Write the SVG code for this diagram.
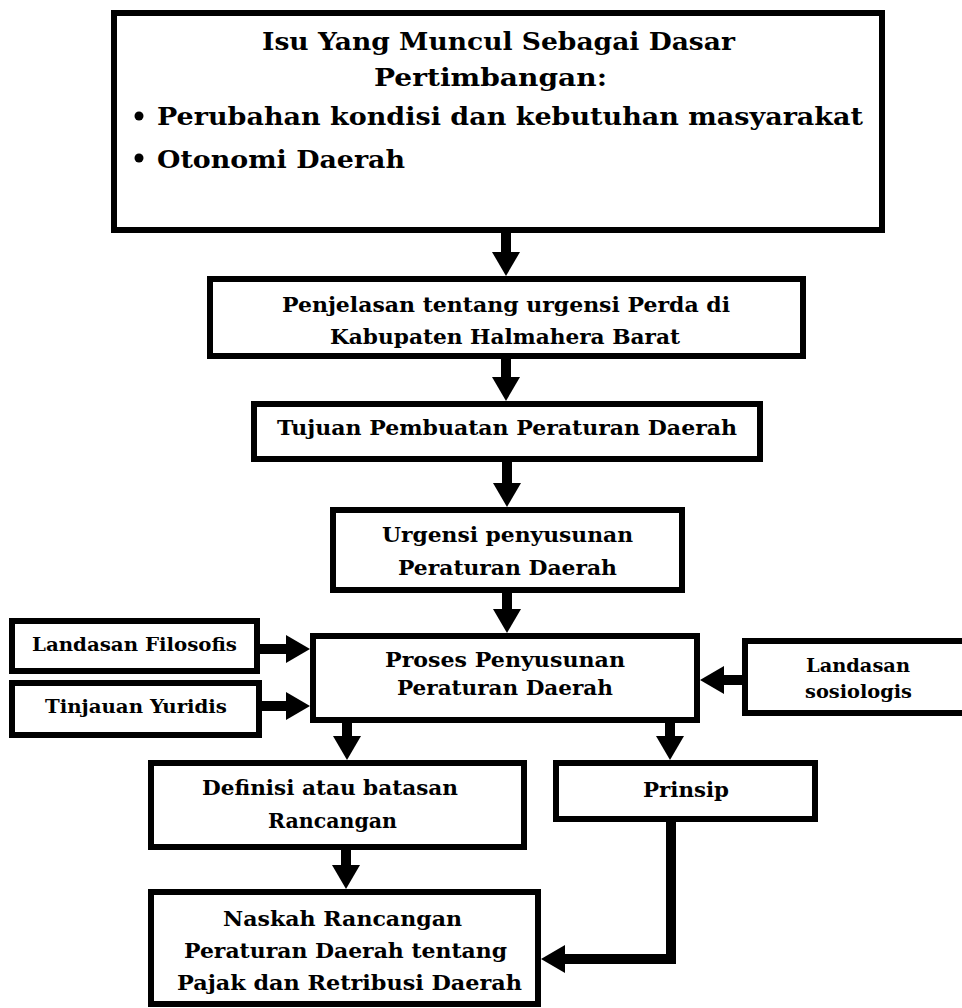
<svg xmlns="http://www.w3.org/2000/svg" width="962" height="1008" viewBox="0 0 962 1008">
<style>
.box{fill:#fff;stroke:#000;stroke-width:6}
.t{font-family:"DejaVu Serif","Liberation Serif",serif;font-weight:bold;fill:#000}
.big{font-size:25px}
.mid{font-size:21px}
.sm{font-size:18px}
.con{fill:none;stroke:#000;stroke-width:10;stroke-linejoin:miter}
</style>
<defs>
<marker id="ah" markerUnits="userSpaceOnUse" markerWidth="24" markerHeight="28" viewBox="0 0 24 28" refX="0" refY="14" orient="auto">
<path d="M0,0 L24,14 L0,28 z" fill="#000"/>
</marker>
</defs>
<rect width="962" height="1008" fill="#fff"/>
<g id="connectors">
<path class="con" d="M506,233 L506,252" marker-end="url(#ah)"/>
<path class="con" d="M506,359 L506,377" marker-end="url(#ah)"/>
<path class="con" d="M507,462 L507,483" marker-end="url(#ah)"/>
<path class="con" d="M507,593 L507,609" marker-end="url(#ah)"/>
<path class="con" d="M260,649 L286,649" marker-end="url(#ah)"/>
<path class="con" d="M262,706 L286,706" marker-end="url(#ah)"/>
<path class="con" d="M742,680 L724,680" marker-end="url(#ah)"/>
<path class="con" d="M347,723 L347,736" marker-end="url(#ah)"/>
<path class="con" d="M670,723 L670,736" marker-end="url(#ah)"/>
<path class="con" d="M346,850 L346,865" marker-end="url(#ah)"/>
<path class="con" d="M671,822 L671,959 L565,959" marker-end="url(#ah)"/>
</g>
<g id="isu">
<rect class="box" x="114" y="13" width="768" height="217"/>
<text class="t big" x="262" y="50" textLength="473" lengthAdjust="spacingAndGlyphs">Isu Yang Muncul Sebagai Dasar</text>
<text class="t big" x="374" y="86" textLength="233" lengthAdjust="spacingAndGlyphs">Pertimbangan:</text>
<circle cx="139" cy="116" r="4.5" fill="#000"/>
<text class="t big" x="157" y="125" textLength="706" lengthAdjust="spacingAndGlyphs">Perubahan kondisi dan kebutuhan masyarakat</text>
<circle cx="139" cy="158" r="4.5" fill="#000"/>
<text class="t big" x="157" y="168" textLength="248" lengthAdjust="spacingAndGlyphs">Otonomi Daerah</text>
</g>
<g id="penjelasan">
<rect class="box" x="210" y="279" width="593" height="77"/>
<text class="t mid" x="282" y="312" textLength="448" lengthAdjust="spacingAndGlyphs">Penjelasan tentang urgensi Perda di</text>
<text class="t mid" x="330" y="344" textLength="350" lengthAdjust="spacingAndGlyphs">Kabupaten Halmahera Barat</text>
</g>
<g id="tujuan">
<rect class="box" x="254" y="404" width="506" height="55"/>
<text class="t mid" x="277" y="435" textLength="460" lengthAdjust="spacingAndGlyphs">Tujuan Pembuatan Peraturan Daerah</text>
</g>
<g id="urgensi">
<rect class="box" x="333" y="510" width="349" height="80"/>
<text class="t mid" x="382" y="542" textLength="251" lengthAdjust="spacingAndGlyphs">Urgensi penyusunan</text>
<text class="t mid" x="398" y="575" textLength="219" lengthAdjust="spacingAndGlyphs">Peraturan Daerah</text>
</g>
<g id="proses">
<rect class="box" x="313" y="636" width="384" height="84"/>
<text class="t mid" x="385" y="667" textLength="240" lengthAdjust="spacingAndGlyphs">Proses Penyusunan</text>
<text class="t mid" x="397" y="695" textLength="216" lengthAdjust="spacingAndGlyphs">Peraturan Daerah</text>
</g>
<g id="filosofis">
<rect class="box" x="12" y="621" width="245" height="50"/>
<text class="t sm" x="32" y="651" textLength="205" lengthAdjust="spacingAndGlyphs">Landasan Filosofis</text>
</g>
<g id="yuridis">
<rect class="box" x="12" y="683" width="247" height="52"/>
<text class="t sm" x="45" y="713" textLength="182" lengthAdjust="spacingAndGlyphs">Tinjauan Yuridis</text>
</g>
<g id="sosiologis">
<rect class="box" x="745" y="641" width="240" height="72"/>
<text class="t sm" x="806" y="672" textLength="104" lengthAdjust="spacingAndGlyphs">Landasan</text>
<text class="t sm" x="805" y="698" textLength="107" lengthAdjust="spacingAndGlyphs">sosiologis</text>
</g>
<g id="definisi">
<rect class="box" x="151" y="763" width="373" height="84"/>
<text class="t mid" x="202" y="795" textLength="256" lengthAdjust="spacingAndGlyphs">Definisi atau batasan</text>
<text class="t mid" x="268" y="828" textLength="129" lengthAdjust="spacingAndGlyphs">Rancangan</text>
</g>
<g id="prinsip">
<rect class="box" x="556" y="763" width="259" height="56"/>
<text class="t mid" x="643" y="797" textLength="86" lengthAdjust="spacingAndGlyphs">Prinsip</text>
</g>
<g id="naskah">
<rect class="box" x="151" y="892" width="387" height="112"/>
<text class="t mid" x="223" y="926" textLength="239" lengthAdjust="spacingAndGlyphs">Naskah Rancangan</text>
<text class="t mid" x="184" y="958" textLength="323" lengthAdjust="spacingAndGlyphs">Peraturan Daerah tentang</text>
<text class="t mid" x="177" y="990" textLength="345" lengthAdjust="spacingAndGlyphs">Pajak dan Retribusi Daerah</text>
</g>
</svg>
